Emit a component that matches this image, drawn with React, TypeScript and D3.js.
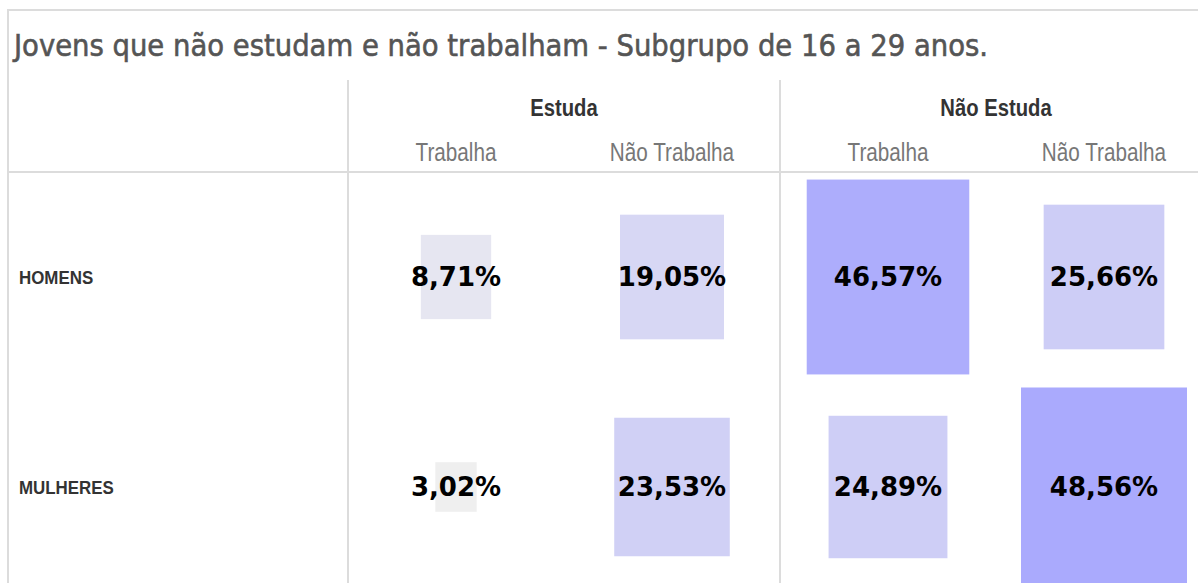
import React from "react";
import * as d3 from "d3";

const title = "Jovens que não estudam e não trabalham - Subgrupo de 16 a 29 anos.";
const groups = ["Estuda", "Não Estuda"];
const subgroups = ["Trabalha", "Não Trabalha"];
const rows = ["HOMENS", "MULHERES"];
const homens = [8.71, 19.05, 46.57, 25.66];
const mulheres = [3.02, 23.53, 24.89, 48.56];
const values = [homens, mulheres];

const W = 1198;
const H = 583;

export default function App() {
  const colX = d3.scaleBand<number>().domain([0, 1, 2, 3]).range([348, 1212]);
  const groupX = d3.scaleBand<number>().domain([0, 1]).range([348, 1212]);
  const rowY = d3.scaleBand<number>().domain([0, 1]).range([172, 592]);
  const all = values.flat();
  const maxV = d3.max(all) as number;
  const ext = d3.extent(all) as [number, number];
  const wScale = d3.scaleSqrt().domain([0, maxV]).range([0, 166]);
  const hScale = d3.scaleSqrt().domain([0, maxV]).range([0, 199]);
  const color = d3.scaleLinear<string>().domain(ext).range(["#efefef", "#aaaafd"]).interpolate(d3.interpolateRgb);
  const fmt = (v: number) => v.toFixed(2).replace(".", ",") + "%";
  const sans = "'Liberation Sans', Arial, sans-serif";

  return (
    <svg width={W} height={H} style={{ position: "absolute", left: 0, top: 0, background: "#fff" }}>
      <rect x={8} y={10} width={W + 20} height={H + 20} fill="#fff" stroke="#dcdcdc" strokeWidth={2} />
      <text x={14} y={56} fontFamily="'DejaVu Sans', sans-serif" fontSize={30} fill="#555" stroke="#555" strokeWidth={0.6} textLength={974} lengthAdjust="spacingAndGlyphs">
        {title}
      </text>
      <line x1={8} x2={W} y1={172} y2={172} stroke="#dcdcdc" strokeWidth={2} />
      {[348, 780].map((x) => (
        <line key={x} x1={x} x2={x} y1={80} y2={H} stroke="#dcdcdc" strokeWidth={2} />
      ))}
      {groups.map((g, i) => (
        <text key={g} transform={`translate(${(groupX(i) as number) + groupX.bandwidth() / 2},116) scale(0.88,1)`} textAnchor="middle" fontFamily={sans} fontWeight="bold" fontSize={23} fill="#333">
          {g}
        </text>
      ))}
      {[0, 1, 2, 3].map((c) => (
        <text key={c} transform={`translate(${(colX(c) as number) + colX.bandwidth() / 2},161) scale(0.9,1.08)`} textAnchor="middle" fontFamily={sans} fontSize={23} fill="#777">
          {subgroups[c % 2]}
        </text>
      ))}
      {rows.map((r, ri) => {
        const cy = (rowY(ri) as number) + rowY.bandwidth() / 2;
        return (
          <g key={r}>
            <text transform={`translate(19,${cy + 7}) scale(0.89,1)`} fontFamily={sans} fontWeight="bold" fontSize={19} fill="#333">
              {r}
            </text>
            {values[ri].map((v, ci) => {
              const cx = (colX(ci) as number) + colX.bandwidth() / 2;
              const w = wScale(v);
              const h = hScale(v);
              return (
                <g key={ci}>
                  <rect x={cx - w / 2} y={cy - h / 2} width={w} height={h} fill={color(v)} />
                  <text x={cx} y={cy} dy="0.34em" textAnchor="middle" fontFamily="'DejaVu Sans', Verdana, sans-serif" fontWeight="bold" fontSize={26} fill="#000">
                    {fmt(v)}
                  </text>
                </g>
              );
            })}
          </g>
        );
      })}
    </svg>
  );
}
